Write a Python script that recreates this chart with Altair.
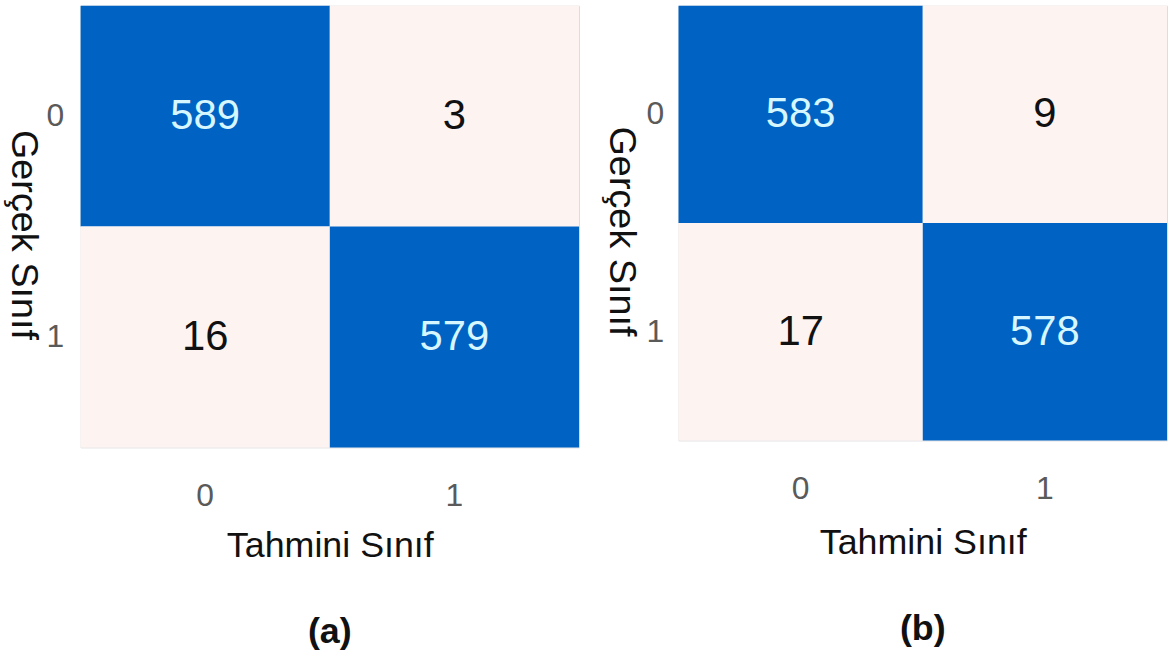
import altair as alt
import pandas as pd

classes = ["0", "1"]
actual = ["0", "0", "1", "1"]
predicted = ["0", "1", "0", "1"]
counts_a = [589, 3, 16, 579]
counts_b = [583, 9, 17, 578]
captions = ["(a)", "(b)"]

BLUE = "#0063C4"
LIGHT = "#FDF4F1"
FONT = "Liberation Sans"


def panel(counts, caption, w, h, label_pad_y, title_y_off):
    df = pd.DataFrame({"actual": actual, "pred": predicted, "count": counts})
    base = alt.Chart(df).encode(
        x=alt.X(
            "pred:N",
            sort=classes,
            scale=alt.Scale(paddingInner=0, paddingOuter=0),
            axis=alt.Axis(
                title="Tahmini Sınıf",
                labelAngle=0,
                ticks=False,
                domain=False,
                labelPadding=33,
                labelFontSize=32,
                labelColor="#5a5a5a",
                labelFont=FONT,
                titleFont=FONT,
                titleFontSize=36,
                titleFontWeight="normal",
                titleColor="#111111",
                titleY=title_y_off,
                titleBaseline="middle",
            ),
        ),
        y=alt.Y(
            "actual:N",
            sort=classes,
            scale=alt.Scale(paddingInner=0, paddingOuter=0),
            axis=alt.Axis(
                title="Gerçek Sınıf",
                labelAngle=0,
                ticks=False,
                domain=False,
                labelPadding=label_pad_y,
                labelFontSize=32,
                labelColor="#5a5a5a",
                labelFont=FONT,
                titleFont=FONT,
                titleFontSize=38,
                titleFontWeight="normal",
                titleColor="#111111",
                titleAngle=90,
                titleX=-58,
                titleY=h / 2 + 8,
                titleAlign="center",
                titleBaseline="middle",
            ),
        ),
    )
    rect = base.mark_rect().encode(
        color=alt.Color(
            "count:Q",
            scale=alt.Scale(type="threshold", domain=[300], range=[LIGHT, BLUE]),
            legend=None,
        )
    )
    text = base.mark_text(fontSize=42, font=FONT).encode(
        text="count:Q",
        color=alt.condition("datum.count > 300", alt.value("#d6f7ff"), alt.value("#111111")),
    )
    return alt.layer(rect, text).properties(
        width=w,
        height=h,
        title=alt.TitleParams(
            caption,
            orient="bottom",
            fontSize=36,
            font=FONT,
            fontWeight="bold",
            color="#111111",
            offset=52,
        ),
    )


left = panel(counts_a, captions[0], 501, 444, 17, 99)
right = panel(counts_b, captions[1], 491, 437, 15, 103)

chart = (
    alt.hconcat(left, right, spacing=21)
    .properties(padding={"left": 3, "top": 3, "right": 0, "bottom": 0})
    .configure_view(stroke=None)
    .configure(background="white")
)

chart.save("out.html", embed_options={"renderer": "svg", "actions": False})
